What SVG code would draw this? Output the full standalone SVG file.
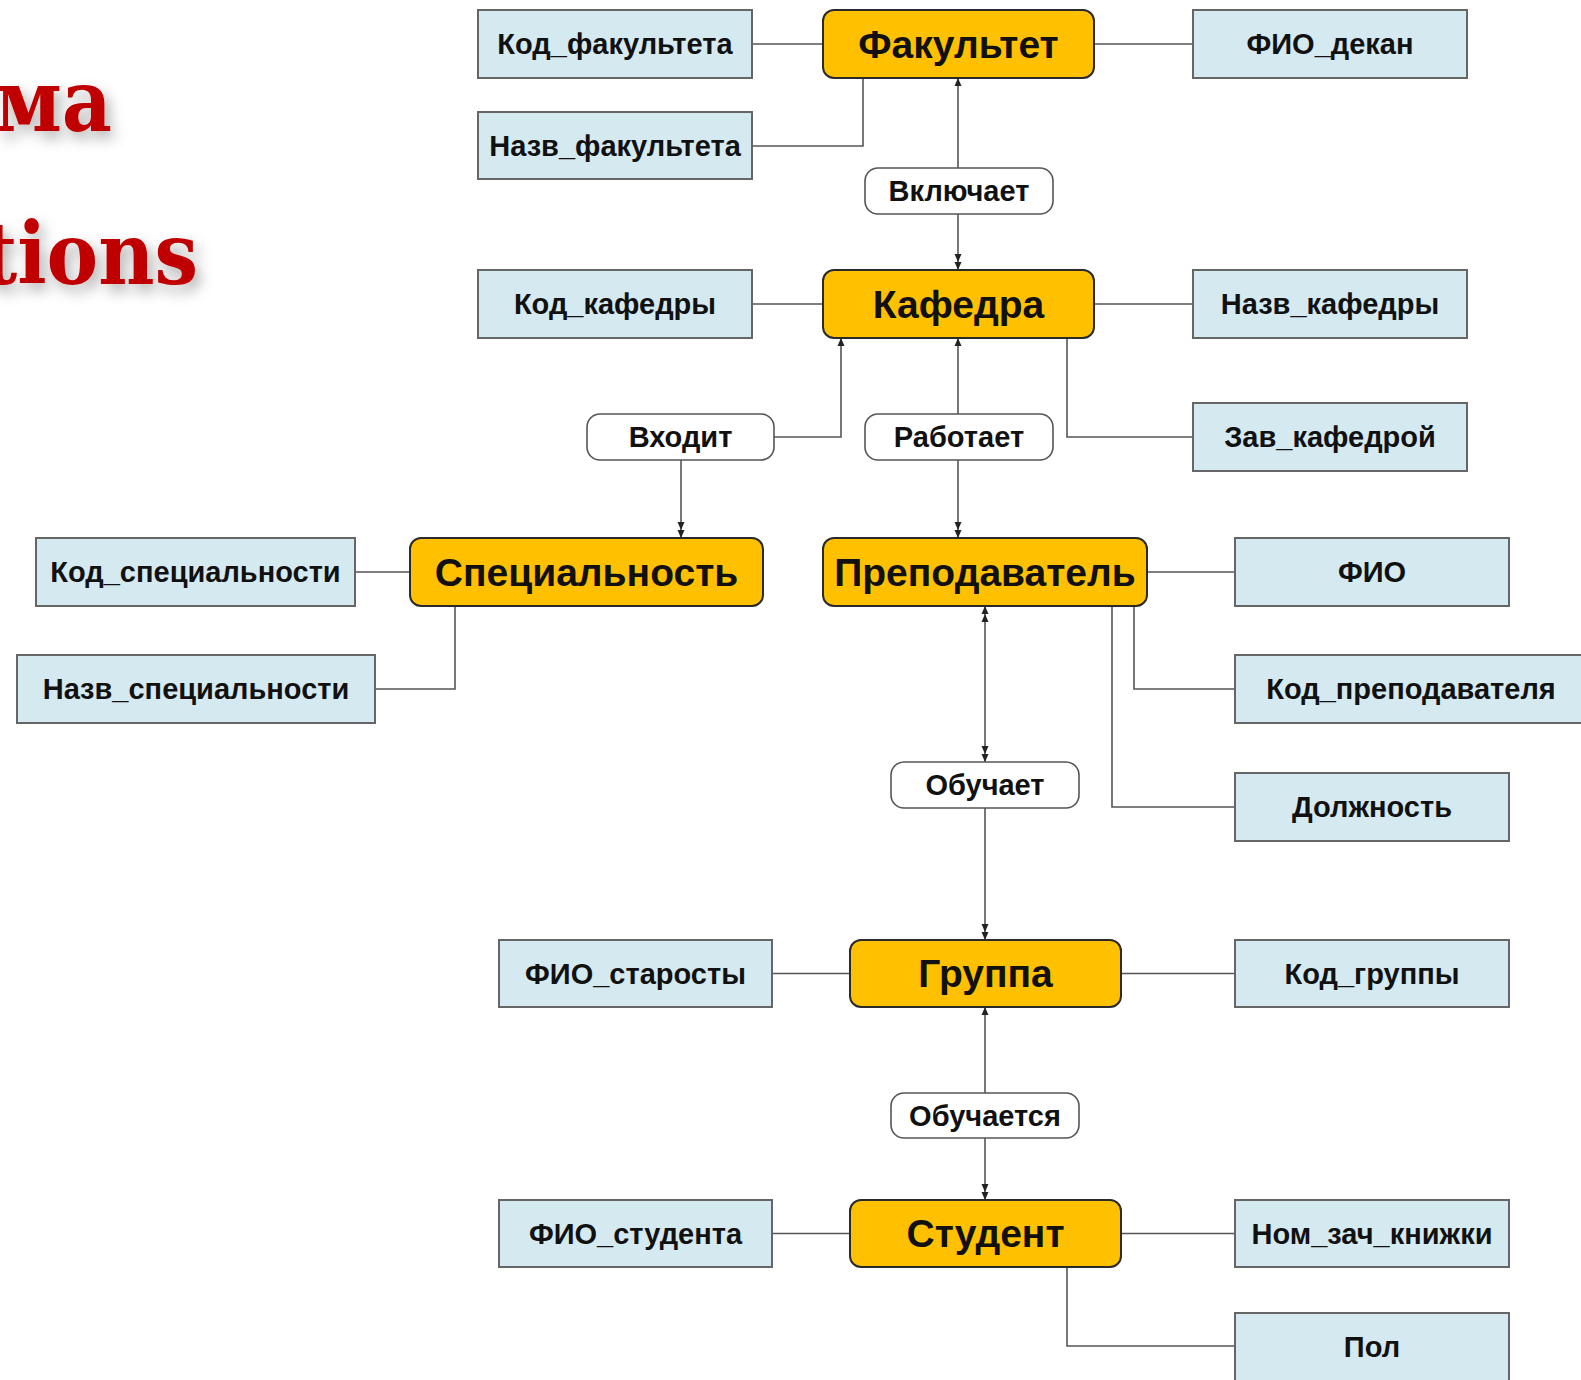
<svg xmlns="http://www.w3.org/2000/svg" width="1581" height="1380" viewBox="0 0 1581 1380">
<style>
.attr rect{fill:#D4E9F0;stroke:#666;stroke-width:2}
.ent rect{fill:#FFC000;stroke:#2a2a2a;stroke-width:2}
.rel rect{fill:#fff;stroke:#555;stroke-width:1.6}
text{font-family:"Liberation Sans",Arial,sans-serif;font-weight:bold;fill:#111;text-anchor:middle}
.attr text,.rel text{font-size:29px}
.ent text{font-size:39px}
.title{font-family:"DejaVu Serif Condensed","DejaVu Serif","Liberation Serif",serif;font-stretch:condensed;font-weight:bold;fill:#C00000;font-size:86px;text-anchor:end}
#connectors path{fill:none;stroke:#555;stroke-width:1.6}
</style>
<defs>
<filter id="sh" x="-20%" y="-20%" width="150%" height="160%">
<feDropShadow dx="5" dy="7" stdDeviation="7" flood-color="#000" flood-opacity="0.3"/>
</filter>
<marker id="one" markerUnits="userSpaceOnUse" markerWidth="20" markerHeight="10" viewBox="0 0 20 10" refX="20" refY="5" orient="auto" overflow="visible">
<path d="M20,5 L12,1.5 L12,8.5 Z" fill="#222"/>
</marker>
<marker id="many" markerUnits="userSpaceOnUse" markerWidth="20" markerHeight="10" viewBox="0 0 20 10" refX="20" refY="5" orient="auto-start-reverse" overflow="visible">
<path d="M20,5 L12,1.5 L12,8.5 Z M12,5 L4,1.5 L4,8.5 Z" fill="#222"/>
</marker>
</defs>
<rect width="1581" height="1380" fill="#fff"/>
<g id="title" filter="url(#sh)">
<text class="title" x="112" y="131">ма</text>
<text class="title" x="198" y="284">tions</text>
</g>
<g id="connectors">
<path d="M752,44 H823"/>
<path d="M1094,44 H1193"/>
<path d="M752,146 H863 V78"/>
<path d="M752,304 H823"/>
<path d="M1094,304 H1193"/>
<path d="M1067,338 V437 H1193"/>
<path d="M355,572 H410"/>
<path d="M375,689 H455 V606"/>
<path d="M1147,572 H1235"/>
<path d="M1134,606 V689 H1235"/>
<path d="M1112,606 V807 H1235"/>
<path d="M772,973.5 H850"/>
<path d="M1121,973.5 H1235"/>
<path d="M772,1233.5 H850"/>
<path d="M1121,1233.5 H1235"/>
<path d="M1067,1267 V1346 H1235"/>
<path d="M958,168 V78" marker-end="url(#one)"/>
<path d="M958,214 V270" marker-end="url(#many)"/>
<path d="M774,437 H841 V338" marker-end="url(#one)"/>
<path d="M681,460 V538" marker-end="url(#many)"/>
<path d="M958,414 V338" marker-end="url(#one)"/>
<path d="M958,460 V538" marker-end="url(#many)"/>
<path d="M985,762 V606" marker-start="url(#many)" marker-end="url(#many)"/>
<path d="M985,808 V940" marker-end="url(#many)"/>
<path d="M985,1093 V1007" marker-end="url(#one)"/>
<path d="M985,1138 V1200" marker-end="url(#many)"/>
</g>
<g id="e-fakultet" class="ent"><rect x="823" y="10" width="271" height="68" rx="11"/><text x="958.5" y="58">Факультет</text></g>
<g id="e-kafedra" class="ent"><rect x="823" y="270" width="271" height="68" rx="11"/><text x="958.5" y="318">Кафедра</text></g>
<g id="e-spec" class="ent"><rect x="410" y="538" width="353" height="68" rx="11"/><text x="586.5" y="586">Специальность</text></g>
<g id="e-prep" class="ent"><rect x="823" y="538" width="324" height="68" rx="11"/><text x="985" y="586">Преподаватель</text></g>
<g id="e-gruppa" class="ent"><rect x="850" y="940" width="271" height="67" rx="11"/><text x="985.5" y="987">Группа</text></g>
<g id="e-student" class="ent"><rect x="850" y="1200" width="271" height="67" rx="11"/><text x="985.5" y="1247">Студент</text></g>
<g id="r-vkl" class="rel"><rect x="865" y="168" width="188" height="46" rx="13"/><text x="959" y="201">Включает</text></g>
<g id="r-vhod" class="rel"><rect x="587" y="414" width="187" height="46" rx="13"/><text x="680.5" y="447">Входит</text></g>
<g id="r-rab" class="rel"><rect x="865" y="414" width="188" height="46" rx="13"/><text x="959" y="447">Работает</text></g>
<g id="r-obuch" class="rel"><rect x="891" y="762" width="188" height="46" rx="13"/><text x="985" y="795">Обучает</text></g>
<g id="r-obuchs" class="rel"><rect x="891" y="1093" width="188" height="45" rx="13"/><text x="985" y="1125.5">Обучается</text></g>
<g id="a-kodfak" class="attr"><rect x="478" y="10" width="274" height="68"/><text x="615" y="54">Код_факультета</text></g>
<g id="a-nazvfak" class="attr"><rect x="478" y="112" width="274" height="67"/><text x="615" y="155.5">Назв_факультета</text></g>
<g id="a-fiodekan" class="attr"><rect x="1193" y="10" width="274" height="68"/><text x="1330" y="54">ФИО_декан</text></g>
<g id="a-kodkaf" class="attr"><rect x="478" y="270" width="274" height="68"/><text x="615" y="314">Код_кафедры</text></g>
<g id="a-nazvkaf" class="attr"><rect x="1193" y="270" width="274" height="68"/><text x="1330" y="314">Назв_кафедры</text></g>
<g id="a-zavkaf" class="attr"><rect x="1193" y="403" width="274" height="68"/><text x="1330" y="447">Зав_кафедрой</text></g>
<g id="a-kodspec" class="attr"><rect x="36" y="538" width="319" height="68"/><text x="195.5" y="582">Код_специальности</text></g>
<g id="a-nazvspec" class="attr"><rect x="17" y="655" width="358" height="68"/><text x="196" y="699">Назв_специальности</text></g>
<g id="a-fio" class="attr"><rect x="1235" y="538" width="274" height="68"/><text x="1372" y="582">ФИО</text></g>
<g id="a-kodprep" class="attr"><rect x="1235" y="655" width="360" height="68"/><text x="1411" y="699">Код_преподавателя</text></g>
<g id="a-dolzh" class="attr"><rect x="1235" y="773" width="274" height="68"/><text x="1372" y="817">Должность</text></g>
<g id="a-fiostar" class="attr"><rect x="499" y="940" width="273" height="67"/><text x="635.5" y="983.5">ФИО_старосты</text></g>
<g id="a-kodgr" class="attr"><rect x="1235" y="940" width="274" height="67"/><text x="1372" y="983.5">Код_группы</text></g>
<g id="a-fiostud" class="attr"><rect x="499" y="1200" width="273" height="67"/><text x="635.5" y="1243.5">ФИО_студента</text></g>
<g id="a-nomzach" class="attr"><rect x="1235" y="1200" width="274" height="67"/><text x="1372" y="1243.5">Ном_зач_книжки</text></g>
<g id="a-pol" class="attr"><rect x="1235" y="1313" width="274" height="80"/><text x="1372" y="1356.5">Пол</text></g>
</svg>
